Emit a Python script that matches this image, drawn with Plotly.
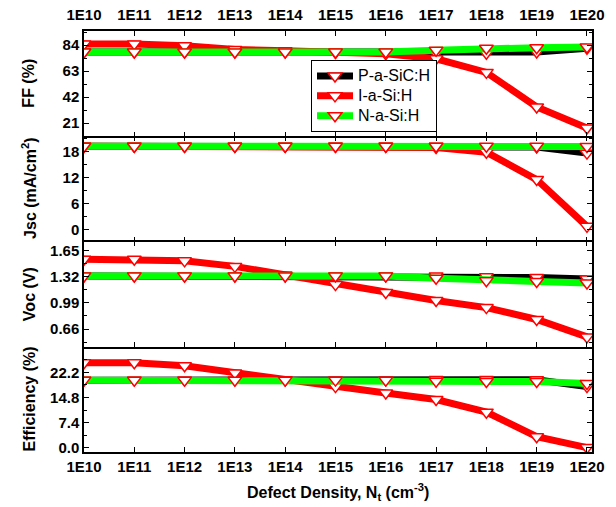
import plotly.graph_objects as go
from plotly.subplots import make_subplots

# ---------------- data ----------------
x_exp = [10, 11, 12, 13, 14, 15, 16, 17, 18, 19, 20]
x_labels = ["1E10", "1E11", "1E12", "1E13", "1E14", "1E15", "1E16", "1E17", "1E18", "1E19", "1E20"]
series_names = ["P-a-SiC:H", "I-a-Si:H", "N-a-Si:H"]

ff_p = [78.5, 78.5, 78.5, 78.5, 78.5, 78.5, 78.0, 77.5, 77.5, 78.5, 81.5]
ff_i = [85.0, 85.0, 83.5, 80.5, 79.5, 78.0, 77.0, 73.0, 62.0, 34.0, 17.0]
ff_n = [78.5, 78.5, 78.5, 78.5, 78.5, 78.5, 78.5, 80.0, 81.5, 82.0, 82.5]

jsc_p = [19.3, 19.3, 19.3, 19.3, 19.3, 19.3, 19.3, 19.3, 19.2, 19.1, 17.7]
jsc_i = [19.3, 19.3, 19.3, 19.3, 19.3, 19.3, 19.3, 19.0, 17.9, 11.6, 0.8]
jsc_n = [19.3, 19.3, 19.3, 19.3, 19.3, 19.3, 19.3, 19.3, 19.3, 19.3, 19.25]

voc_p = [1.33, 1.33, 1.33, 1.33, 1.33, 1.33, 1.33, 1.33, 1.32, 1.31, 1.29]
voc_i = [1.54, 1.54, 1.52, 1.45, 1.34, 1.22, 1.12, 1.02, 0.93, 0.78, 0.56]
voc_n = [1.33, 1.33, 1.33, 1.33, 1.33, 1.33, 1.33, 1.30, 1.27, 1.26, 1.24]

eff_p = [19.9, 19.9, 19.9, 19.9, 19.9, 19.9, 19.9, 20.1, 20.1, 20.0, 18.0]
eff_i = [25.0, 25.0, 24.1, 22.0, 20.0, 18.0, 16.1, 14.2, 10.5, 3.3, 0.1]
eff_n = [19.9, 19.9, 19.9, 19.9, 19.9, 19.9, 19.9, 19.6, 19.5, 19.5, 18.9]

y_titles = ["FF (%)", "Jsc (mA/cm<sup>2</sup>)", "Voc (V)", "Efficiency (%)"]
x_title = "Defect Density, N<sub>t</sub> (cm<sup>-3</sup>)"

ff_ticks = [21, 42, 63, 84]
jsc_ticks = [0, 6, 12, 18]
voc_ticks = [0.66, 0.99, 1.32, 1.65]
eff_ticks = [0.0, 7.4, 14.8, 22.2]

# ---------------- figure ----------------
FONT = "Arial, Liberation Sans, sans-serif"
colors = ["#000000", "#FF0000", "#00FF00"]

fig = make_subplots(rows=4, cols=1, vertical_spacing=0)

panels = [
    (ff_p, ff_i, ff_n),
    (jsc_p, jsc_i, jsc_n),
    (voc_p, voc_i, voc_n),
    (eff_p, eff_i, eff_n),
]

for r, vals in enumerate(panels, start=1):
    for k, (name, ys) in enumerate(zip(series_names, vals)):
        fig.add_trace(
            go.Scatter(
                x=x_exp, y=ys, name='<span style="font-size:16px">%s</span>' % name,
                mode="lines+markers",
                line=dict(color=colors[k], width=7),
                marker=dict(symbol="triangle-down", size=12, color="white",
                            line=dict(color="#FF0000", width=1.5)),
                showlegend=(r == 1), legendgroup=name,
            ),
            row=r, col=1,
        )

tick_font = dict(family=FONT, size=15, color="black", weight="bold")

# horizontal frame lines: row1 -> top + divider1, row3 -> divider2 + divider3,
# row4 -> bottom only; row2 draws ticks only (no lines) to avoid doubled lines
for r in range(1, 5):
    xa = dict(range=[10, 20.1], tickmode="array", tickvals=x_exp, ticktext=x_labels,
              ticks="inside", ticklen=5, tickwidth=1.3, tickcolor="black",
              linewidth=1.5, linecolor="black", automargin=False,
              showgrid=False, zeroline=False, tickfont=tick_font)
    if r == 1:
        xa.update(side="top", showticklabels=True, showline=True, mirror="ticks",
                  ticklabelstandoff=3)
    elif r == 2:
        xa.update(side="bottom", showticklabels=False, showline=False, mirror="ticks")
    elif r == 3:
        xa.update(side="bottom", showticklabels=False, showline=True, mirror="ticks")
    else:
        xa.update(side="bottom", showticklabels=True, showline=True, mirror=False)
    fig.update_xaxes(row=r, col=1, **xa)

ycfg = [
    (ff_ticks, [10.3, 95.5], 10.5, "d"),
    (jsc_ticks, [-2.7, 21.6], 3, "d"),
    (voc_ticks, [0.436, 1.764], 0.165, ".2f"),
    (eff_ticks, [-1.2, 29.7], 3.7, ".1f"),
]
for r, (tv, rng, minor_d, fmt) in enumerate(ycfg, start=1):
    fig.update_yaxes(row=r, col=1, range=rng, tickmode="array", tickvals=tv,
                     tickformat=fmt, ticks="inside", ticklen=5, tickwidth=1.3,
                     tickcolor="black", showline=True, linewidth=1.5,
                     linecolor="black", mirror="ticks", showgrid=False,
                     zeroline=False, tickfont=tick_font, automargin=False,
                     minor=dict(ticks="inside", ticklen=3, tickwidth=1,
                                tickcolor="black", tick0=tv[0], dtick=minor_d,
                                showgrid=False))

# y titles as annotations (aligned column)
H = 421.0
panel_centers = [1 - (0.5 + i) / 4 for i in range(4)]
for t, yc in zip(y_titles, panel_centers):
    fig.add_annotation(text=t, xref="paper", yref="paper", x=(29 - 84) / 508.0, y=yc,
                       xanchor="center", yanchor="middle", textangle=-90, showarrow=False,
                       font=dict(family=FONT, size=16, color="black", weight="bold"))

fig.add_annotation(text=x_title, xref="paper", yref="paper", x=0.5, y=(452 - 492) / H,
                   xanchor="center", yanchor="middle", showarrow=False,
                   font=dict(family=FONT, size=16, color="black", weight="bold"))

fig.update_layout(
    width=616, height=507,
    margin=dict(l=84, r=24, t=31, b=55),
    paper_bgcolor="white", plot_bgcolor="white",
    font=dict(family=FONT, color="black"),
    legend=dict(x=(311 - 84) / 508.0, y=(452 - 60) / H, xanchor="left", yanchor="top",
                bgcolor="white", bordercolor="black", borderwidth=1,
                font=dict(family=FONT, size=13, color="black"),
                tracegroupgap=0, itemwidth=36),
    showlegend=True,
)

fig.write_html("out.html", config={"displayModeBar": False},
               post_script="document.body.style.margin='0';document.body.style.overflow='hidden';")
